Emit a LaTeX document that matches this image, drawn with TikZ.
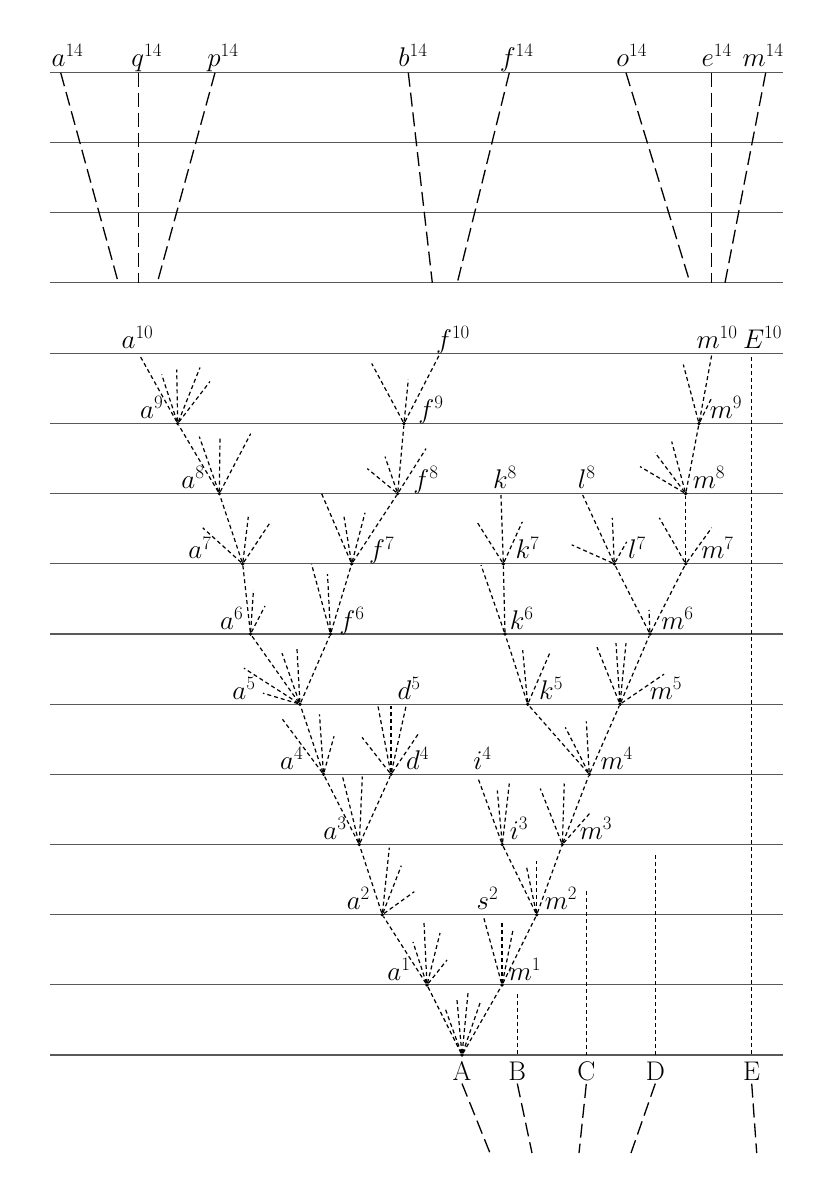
\documentclass[tikz,border=0pt]{standalone}
\usepackage{fix-cm}
\usepackage{tikz}

\tikzset{
  rule/.style={draw=black!65, line width=1.3pt},
  longdash/.style={line width=1.3pt, dash pattern=on 14pt off 6pt},
  twig/.style={line width=1.2pt, dash pattern=on 4pt off 3pt},
  lbl/.style={anchor=base, font=\fontsize{27}{31}\selectfont},
  spot/.style={circle, fill, inner sep=0pt, minimum size=3.8pt},
}
\newcommand{\fan}[2]{\foreach \dx/\dy in {#2} \draw[twig] (#1) -- ++(\dx,\dy);}

\begin{document}
\begin{tikzpicture}[x=1pt, y=-1pt]
\useasboundingbox (0,0) rectangle (840,1186);

% generations
\foreach \y in {72.7,142.7,212.7,282.7} \draw[rule] (50,\y) -- (783,\y);
\foreach \i in {0,...,10} \draw[rule] (50,353.3+70.17*\i) -- (783,353.3+70.17*\i);

% fourteenth generation
\coordinate (a14) at (60.7,72.7);  \coordinate (a14b) at (118.3,282.7);
\coordinate (q14) at (138.3,72.7); \coordinate (q14b) at (138.3,282.7);
\coordinate (p14) at (215,72.7);   \coordinate (p14b) at (157.3,282.7);
\coordinate (b14) at (408.3,72.7); \coordinate (b14b) at (432.3,282.7);
\coordinate (f14) at (509.3,72.7); \coordinate (f14b) at (457.3,282.7);
\coordinate (o14) at (626,72.7);   \coordinate (o14b) at (690,282.7);
\coordinate (e14) at (711.7,72.7); \coordinate (e14b) at (711.7,282.7);
\coordinate (m14) at (765.7,72.7); \coordinate (m14b) at (725,282.7);
\foreach \n in {a14,q14,p14,b14,f14,o14,e14,m14} \draw[longdash] (\n) -- (\n b);

\node[lbl] (la14) at (67.5,66) {$a^{14}$};
\node[lbl] (lq14) at (146.7,66) {$q^{14}$};
\node[lbl] (lp14) at (223,66) {$p^{14}$};
\node[lbl] (lb14) at (413,66) {$b^{14}$};
\node[lbl] (lf14) at (516.7,66) {$f^{14}$};
\node[lbl] (lo14) at (631.7,66) {$o^{14}$};
\node[lbl] (le14) at (716.7,66) {$e^{14}$};
\node[lbl] (lm14) at (763,66) {$m^{14}$};

% branching points
\node[spot] (A) at (462,1055) {};
\node[spot] (a1) at (427,985) {};
\node[spot] (m1) at (502,985) {};
\node[spot] (a2) at (382.3,914.7) {};
\node[spot] (m2) at (536.7,914.7) {};
\node[spot] (a3) at (359.3,844.5) {};
\node[spot] (i3) at (502.3,844.5) {};
\node[spot] (m3) at (562.3,844.5) {};
\node[spot] (a4) at (323.5,774.3) {};
\node[spot] (d4) at (391,774.3) {};
\node[spot] (m4) at (589.3,774.3) {};
\node[spot] (a5) at (300,704.2) {};
\node[spot] (k5) at (527.7,704.2) {};
\node[spot] (m5) at (620,704.2) {};
\node[spot] (a6) at (250.5,634) {};
\node[spot] (f6) at (330.5,634) {};
\node[spot] (k6) at (505,634) {};
\node[spot] (m6) at (650,634) {};
\node[spot] (a7) at (242.7,563.8) {};
\node[spot] (f7) at (351.7,563.8) {};
\node[spot] (k7) at (503.3,563.8) {};
\node[spot] (l7) at (614.3,563.8) {};
\node[spot] (m7) at (685.7,563.8) {};
\node[spot] (a8) at (219.3,493.6) {};
\node[spot] (f8) at (397.7,493.6) {};
\node[spot] (m8) at (685.7,493.6) {};
\node[spot] (a9) at (177.7,423.5) {};
\node[spot] (f9) at (404,423.5) {};
\node[spot] (m9) at (699,423.5) {};

% ends of lines
\coordinate (a10) at (139.5,355);
\coordinate (f10) at (439.3,355);
\coordinate (m10) at (711.7,355);
\coordinate (E10) at (751.7,357);
\coordinate (k8) at (501,495);
\coordinate (l8) at (582.7,495);
\coordinate (d5) at (391,706);
\coordinate (i4) at (478.3,779);
\coordinate (s2) at (483.3,916);
\coordinate (Btop) at (517.3,994);  \coordinate (B0) at (517.3,1055);
\coordinate (Ctop) at (586.3,891);  \coordinate (C0) at (586.3,1055);
\coordinate (Dtop) at (655.3,855);  \coordinate (D0) at (655.3,1055);
\coordinate (E0) at (751.7,1055);

% lines of descent
\draw[twig] (A) -- (a1);  \draw[twig] (A) -- (m1);
\draw[twig] (a1) -- (a2); \draw[twig] (m1) -- (s2); \draw[twig] (m1) -- (m2);
\draw[twig] (a2) -- (a3); \draw[twig] (m2) -- (i3); \draw[twig] (m2) -- (m3);
\draw[twig] (a3) -- (a4); \draw[twig] (a3) -- (d4);
\draw[twig] (i3) -- (i4); \draw[twig] (m3) -- (m4);
\draw[twig] (a4) -- (a5); \draw[twig] (d4) -- (d5);
\draw[twig] (m4) -- (k5); \draw[twig] (m4) -- (m5);
\draw[twig] (a5) -- (a6); \draw[twig] (a5) -- (f6);
\draw[twig] (k5) -- (k6); \draw[twig] (m5) -- (m6);
\draw[twig] (a6) -- (a7); \draw[twig] (f6) -- (f7); \draw[twig] (k6) -- (k7);
\draw[twig] (m6) -- (l7); \draw[twig] (m6) -- (m7);
\draw[twig] (a7) -- (a8); \draw[twig] (f7) -- (f8); \draw[twig] (k7) -- (k8);
\draw[twig] (l7) -- (l8); \draw[twig] (m7) -- (m8);
\draw[twig] (a8) -- (a9); \draw[twig] (f8) -- (f9); \draw[twig] (m8) -- (m9);
\draw[twig] (a9) -- (a10); \draw[twig] (f9) -- (f10); \draw[twig] (m9) -- (m10);
\draw[twig] (Btop) -- (B0); \draw[twig] (Ctop) -- (C0);
\draw[twig] (Dtop) -- (D0); \draw[twig] (E10) -- (E0);

% short varieties
\fan{A}{-17/-47, -5/-55, 6/-62, 18/-52}
\fan{a1}{-14/-43, -3/-62, 13/-52, 20/-25}
\fan{m1}{0/-63, 11/-55}
\fan{a2}{7/-67, 19/-49, 32/-23}
\fan{m2}{-10/-47, 0/-54}
\fan{a3}{-17/-69, 3/-68}
\fan{i3}{-5/-54, 7/-61}
\fan{m3}{-22/-56, 2/-61, 29/-33}
\fan{a4}{-41/-55, -4/-60, 10.5/-38}
\fan{d4}{-29/-37, -13/-68, 15/-68, 27/-40}
\fan{m4}{-24/-47, -3/-53}
\fan{a5}{-56/-36, -18/-51, -3/-55, -37/-11}
\fan{k5}{-5/-54, 22/-51}
\fan{m5}{-23/-57, -4/-61, 6/-61, 44/-30}
\fan{a6}{3/-44, 14.5/-28}
\fan{f6}{-19/-70, -3/-60}
\fan{k6}{-24/-69}
\fan{m6}{-1/-24}
\fan{a7}{-40/-36, 5.6/-47, 26.6/-40}
\fan{f7}{-30/-70, -7.7/-47, 13.3/-51}
\fan{k7}{-27/-43, 19/-42}
\fan{l7}{-42.6/-19, -2/-46, 12.4/-22}
\fan{m7}{-26.4/-46, 26/-36}
\fan{a8}{-20/-57, 0.7/-55, 31.4/-60}
\fan{f8}{-30.4/-25, -12.7/-37, 28.3/-45}
\fan{m8}{-45.7/-27, -30.7/-41, -14/-52}
\fan{a9}{-16/-49, -1/-54, 22.3/-56, 32.3/-42}
\fan{f9}{-32.3/-60, 4.3/-44}
\fan{m9}{-15.7/-59, 13.3/-27}

% labels
\node[lbl] (la10) at (137.5,348) {$a^{10}$};
\node[lbl] (lf10) at (453,348) {$f^{10}$};
\node[lbl] (lm10) at (717,348) {$m^{10}$};
\node[lbl] (lE10) at (762.5,348) {$E^{10}$};
\node[lbl] (la9) at (151.7,418.5) {$a^{9}$};
\node[lbl] (lf9) at (431,418.5) {$f^{9}$};
\node[lbl] (lm9) at (726,418.5) {$m^{9}$};
\node[lbl] (la8) at (193,488.6) {$a^{8}$};
\node[lbl] (lf8) at (426,488.6) {$f^{8}$};
\node[lbl] (lk8) at (505,488.6) {$k^{8}$};
\node[lbl] (ll8) at (586.7,488.6) {$l^{8}$};
\node[lbl] (lm8) at (709,488.6) {$m^{8}$};
\node[lbl] (la7) at (200,558.8) {$a^{7}$};
\node[lbl] (lf7) at (381.7,558.8) {$f^{7}$};
\node[lbl] (lk7) at (527.5,558.8) {$k^{7}$};
\node[lbl] (ll7) at (637,558.8) {$l^{7}$};
\node[lbl] (lm7) at (717.5,558.8) {$m^{7}$};
\node[lbl] (la6) at (231.7,629) {$a^{6}$};
\node[lbl] (lf6) at (352,629) {$f^{6}$};
\node[lbl] (lk6) at (521.7,629) {$k^{6}$};
\node[lbl] (lm6) at (677.5,629) {$m^{6}$};
\node[lbl] (la5) at (244,699.2) {$a^{5}$};
\node[lbl] (ld5) at (409,699.2) {$d^{5}$};
\node[lbl] (lk5) at (551,699.2) {$k^{5}$};
\node[lbl] (lm5) at (666,699.2) {$m^{5}$};
\node[lbl] (la4) at (291.7,769.3) {$a^{4}$};
\node[lbl] (ld4) at (417.5,769.3) {$d^{4}$};
\node[lbl] (li4) at (482.5,769.3) {$i^{4}$};
\node[lbl] (lm4) at (616.7,769.3) {$m^{4}$};
\node[lbl] (la3) at (335,839.5) {$a^{3}$};
\node[lbl] (li3) at (519,839.5) {$i^{3}$};
\node[lbl] (lm3) at (596,839.5) {$m^{3}$};
\node[lbl] (la2) at (358.3,909.7) {$a^{2}$};
\node[lbl] (ls2) at (487.5,909.7) {$s^{2}$};
\node[lbl] (lm2) at (561,909.7) {$m^{2}$};
\node[lbl] (la1) at (399,980) {$a^{1}$};
\node[lbl] (lm1) at (525,980) {$m^{1}$};

% original species
\node[lbl] (labA) at (462,1080) {A};
\node[lbl] (labB) at (517.3,1080) {B};
\node[lbl] (labC) at (586.3,1080) {C};
\node[lbl] (labD) at (655.3,1080) {D};
\node[lbl] (labE) at (751.7,1080) {E};
\coordinate (Aend) at (490,1153);
\coordinate (Bend) at (532,1153);
\coordinate (Cend) at (579,1153);
\coordinate (Dend) at (631,1153);
\coordinate (Eend) at (756.7,1153);
\foreach \s in {A,B,C,D,E} \draw[longdash] (lab\s.south) -- (\s end);
\end{tikzpicture}
\end{document}
